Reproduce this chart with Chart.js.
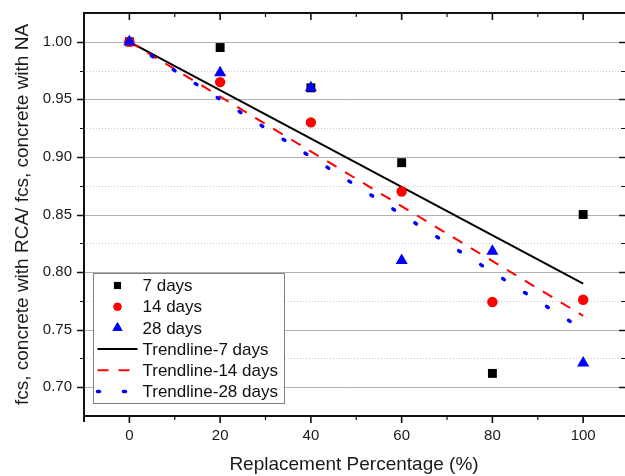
<!DOCTYPE html>
<html><head><meta charset="utf-8">
<script src="https://cdn.jsdelivr.net/npm/chart.js@4.4.0/dist/chart.umd.min.js"></script>
<style>html,body{margin:0;padding:0;background:#fff;overflow:hidden}#wrap{width:625px;height:476px;position:relative}</style>
</head><body><div id="wrap"><canvas id="c" width="625" height="476"></canvas></div>
<script>
// ---- data ----
const xValues = [0, 20, 40, 60, 80, 100];
const days7  = [1.000, 0.995, 0.960, 0.895, 0.712, 0.850];
const days14 = [1.000, 0.965, 0.930, 0.870, 0.774, 0.776];
const days28 = [1.000, 0.973, 0.960, 0.810, 0.818, 0.721];
const trendX  = [0, 100];
const trend7  = [1.000, 0.790];
const trend14 = [1.000, 0.762];
const trend28 = [1.000, 0.750];
const yTickLabels = [0.70, 0.75, 0.80, 0.85, 0.90, 0.95, 1.00];
const xTickLabels = [0, 20, 40, 60, 80, 100];
const seriesNames = ['7 days', '14 days', '28 days', 'Trendline-7 days', 'Trendline-14 days', 'Trendline-28 days'];

const FONT = 'Arial, "Liberation Sans", sans-serif';
const pts = (xs, ys) => xs.map((x, i) => ({x: x, y: ys[i]}));
const noPad = s => { s.paddingTop = 0; s.paddingBottom = 0; s.paddingLeft = 0; s.paddingRight = 0; };

const gridPlugin = {
  id: 'gridPlugin',
  beforeDatasetsDraw(chart) {
    const {ctx, chartArea: a, scales: {y}} = chart;
    ctx.save();
    ctx.lineWidth = 1;
    ctx.strokeStyle = '#c8c8c8';
    ctx.setLineDash([1, 2]);
    for (let i = 0; i < yTickLabels.length; i++) {
      const v = yTickLabels[i] + 0.025;
      if (v >= y.max - 1e-9) continue;
      const py = Math.round(y.getPixelForValue(v)) + 0.5;
      ctx.beginPath(); ctx.moveTo(a.left, py); ctx.lineTo(a.right - 5, py); ctx.stroke();
    }
    ctx.setLineDash([]);
    ctx.strokeStyle = '#b0b0b0';
    yTickLabels.forEach(v => {
      const py = Math.round(y.getPixelForValue(v)) + 0.5;
      ctx.beginPath(); ctx.moveTo(a.left, py); ctx.lineTo(a.right - 5, py); ctx.stroke();
    });
    ctx.restore();
  },
  afterDraw(chart) {
    const {ctx, chartArea: a, scales: {x, y}} = chart;
    ctx.save();
    ctx.strokeStyle = '#111';
    ctx.lineWidth = 2;
    ctx.beginPath();
    ctx.moveTo(a.left, a.top); ctx.lineTo(a.left, a.bottom + 6);
    ctx.moveTo(a.left - 1, a.bottom); ctx.lineTo(a.right + 2, a.bottom);
    ctx.moveTo(a.left - 1, a.top); ctx.lineTo(a.right + 2, a.top);
    ctx.stroke();
    ctx.lineWidth = 1.6;
    xTickLabels.forEach(v => {
      const px = x.getPixelForValue(v);
      ctx.beginPath();
      ctx.moveTo(px, a.bottom); ctx.lineTo(px, a.bottom + 7);
      ctx.moveTo(px, a.top); ctx.lineTo(px, a.top + 7);
      ctx.stroke();
    });
    ctx.lineWidth = 1.2;
    for (let i = 0; i <= xTickLabels.length; i++) {
      const v = (i === 0 ? xTickLabels[0] : xTickLabels[i - 1]) + (i === 0 ? -10 : 10);
      if (v < x.min - 1e-9 || v > x.max) continue;
      const px = x.getPixelForValue(v);
      ctx.beginPath();
      ctx.moveTo(px, a.bottom); ctx.lineTo(px, a.bottom + 4);
      ctx.moveTo(px, a.top); ctx.lineTo(px, a.top + 4);
      ctx.stroke();
    }
    ctx.lineWidth = 1.6;
    yTickLabels.forEach(v => {
      const py = Math.round(y.getPixelForValue(v)) + 0.5;
      ctx.beginPath();
      ctx.moveTo(a.left - 7, py); ctx.lineTo(a.left, py);
      ctx.moveTo(a.right - 5, py); ctx.lineTo(a.right + 1, py);
      ctx.stroke();
    });
    ctx.lineWidth = 1.2;
    yTickLabels.forEach(v0 => {
      const v = v0 + 0.025;
      if (v >= y.max - 1e-9) return;
      const py = Math.round(y.getPixelForValue(v)) + 0.5;
      ctx.beginPath();
      ctx.moveTo(a.left - 4, py); ctx.lineTo(a.left, py);
      ctx.moveTo(a.right - 3, py); ctx.lineTo(a.right + 1, py);
      ctx.stroke();
    });
    ctx.restore();

    // legend inside plot area
    const lx = a.left + 9.5, ly = a.bottom - 142.5, lw = 191, lh = 130;
    ctx.save();
    ctx.fillStyle = '#fff';
    ctx.fillRect(lx, ly, lw, lh);
    ctx.strokeStyle = '#808080';
    ctx.lineWidth = 1;
    ctx.strokeRect(lx, ly, lw, lh);
    const legendRadius = [5, 4, 5.8];
    chart.data.datasets.forEach((ds, i) => {
      const cy = ly + 12 + i * 21.2;
      if (!ds.showLine) {
        ctx.fillStyle = ds.backgroundColor;
        ctx.strokeStyle = ds.borderColor;
        Chart.helpers.drawPoint(ctx, {pointStyle: ds.pointStyle, radius: legendRadius[i], rotation: 0, borderWidth: 0}, lx + 24, cy);
        ctx.fill();
      } else {
        ctx.save();
        ctx.strokeStyle = ds.borderColor;
        ctx.lineWidth = ds.borderWidth;
        ctx.lineCap = ds.borderCapStyle || 'butt';
        ctx.setLineDash(ds.borderDash || []);
        ctx.beginPath(); ctx.moveTo(lx + 4, cy); ctx.lineTo(lx + 44, cy); ctx.stroke();
        ctx.restore();
      }
      ctx.fillStyle = '#111';
      ctx.font = '17px ' + FONT;
      ctx.textBaseline = 'middle';
      ctx.textAlign = 'left';
      ctx.fillText(ds.label, lx + 49, cy + 1);
    });
    ctx.restore();
  }
};

new Chart(document.getElementById('c'), {
  type: 'scatter',
  data: {
    datasets: [
      {label: seriesNames[0], data: pts(xValues, days7), showLine: false, pointStyle: 'rect', pointRadius: 6.3, backgroundColor: '#000000', borderColor: '#000000', borderWidth: 0, order: 3},
      {label: seriesNames[1], data: pts(xValues, days14), showLine: false, pointStyle: 'circle', pointRadius: 5.2, backgroundColor: '#ff0000', borderColor: '#ff0000', borderWidth: 0, order: 2},
      {label: seriesNames[2], data: pts(xValues, days28), showLine: false, pointStyle: 'triangle', pointRadius: 7, backgroundColor: '#0000ff', borderColor: '#0000ff', borderWidth: 0, order: 1},
      {label: seriesNames[3], data: pts(trendX, trend7), showLine: true, pointRadius: 0, borderColor: '#000000', backgroundColor: '#000000', borderWidth: 2, order: 6},
      {label: seriesNames[4], data: pts(trendX, trend14), showLine: true, pointRadius: 0, borderColor: '#ff0000', backgroundColor: '#ff0000', borderWidth: 2, borderDash: [11, 10], order: 5},
      {label: seriesNames[5], data: pts(trendX, trend28), showLine: true, pointRadius: 0, borderColor: '#0000ff', backgroundColor: '#0000ff', borderWidth: 3.5, borderDash: [2, 24], borderCapStyle: 'round', order: 4}
    ]
  },
  options: {
    responsive: false,
    animation: false,
    events: [],
    devicePixelRatio: 1,
    layout: {autoPadding: false, padding: {top: 13, right: 1, left: 0, bottom: 0}},
    plugins: {legend: {display: false}, tooltip: {enabled: false}},
    scales: {
      x: {
        type: 'linear', min: -10, max: 109,
        afterBuildTicks: s => { s.ticks = xTickLabels.map(v => ({value: v})); },
        afterFit: s => { s.height = 60; noPad(s); },
        grid: {display: false, drawTicks: false},
        border: {display: false},
        ticks: {padding: 11, color: '#1a1a1a', font: {family: FONT, size: 15}, callback: v => String(v), maxRotation: 0},
        title: {display: true, text: 'Replacement Percentage (%)', color: '#1a1a1a', font: {family: FONT, size: 19}, padding: {top: 0, bottom: 0}}
      },
      y: {
        type: 'linear', min: 0.675, max: 1.025,
        afterBuildTicks: s => { s.ticks = yTickLabels.map(v => ({value: v})); },
        afterFit: s => { s.width = 84; noPad(s); },
        grid: {display: false, drawTicks: false},
        border: {display: false},
        ticks: {padding: 12, color: '#1a1a1a', font: {family: FONT, size: 15}, callback: v => Number(v).toFixed(2)},
        title: {display: true, text: 'fcs, concrete with RCA/ fcs, concrete with NA', color: '#1a1a1a', font: {family: FONT, size: 19}, padding: {top: 11, bottom: 0}}
      }
    }
  },
  plugins: [gridPlugin]
});
</script>
</body></html>
